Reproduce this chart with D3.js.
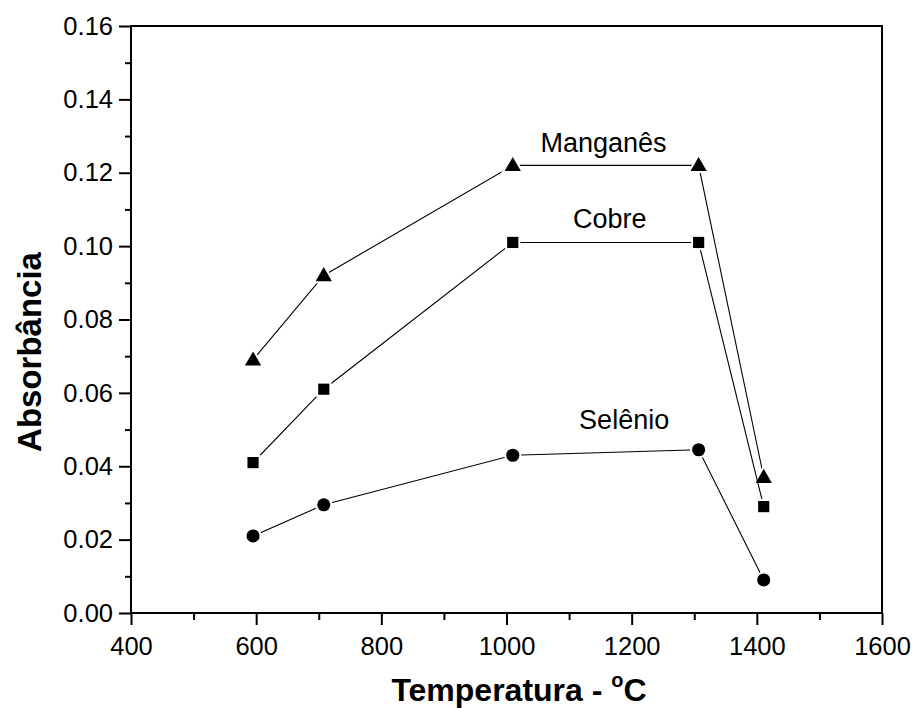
<!DOCTYPE html>
<html>
<head>
<meta charset="utf-8">
<script src="https://cdn.jsdelivr.net/npm/d3@7"></script>
<style>
  html, body { margin: 0; padding: 0; background: #fff; }
  svg { display: block; font-family: Arial, "Liberation Sans", sans-serif; }
</style>
</head>
<body>
<svg id="chart" width="919" height="708"></svg>
<script>
// Atomization temperature (°C)
const temperatures = [595, 708, 1010, 1307, 1411];
// Absorbance per element
const manganes = [0.069, 0.092, 0.122, 0.122, 0.037];
const cobre    = [0.041, 0.061, 0.101, 0.101, 0.029];
const selenio  = [0.021, 0.0295, 0.043, 0.0445, 0.009];

const seriesNames = ["Manganês", "Cobre", "Selênio"];
const seriesSymbols = ["triangle", "square", "circle"];
// Label anchor for each series, in data units (temperature, absorbance)
const labelTemps = [1155, 1165, 1188];
const labelValues = [0.1257, 0.1049, 0.0502];

const xTicks = [400, 600, 800, 1000, 1200, 1400, 1600];
const yTicks = [0.00, 0.02, 0.04, 0.06, 0.08, 0.10, 0.12, 0.14, 0.16];

const svg = d3.select("#chart");
const margin = { left: 131, right: 919 - 882, top: 26, bottom: 708 - 613 };
const W = 919, H = 708;

const x = d3.scaleLinear().domain([400, 1600]).range([margin.left, W - margin.right]);
const y = d3.scaleLinear().domain([0, 0.16]).range([H - margin.bottom, margin.top]);

// Minor ticks
const xMinor = d3.range(500, 1600, 200);
const yMinor = d3.range(0.01, 0.16, 0.02);

const gx = svg.append("g").attr("transform", `translate(0,${y(0)})`);
gx.call(d3.axisBottom(x).tickValues(xTicks).tickFormat(d3.format("d")).tickSize(12).tickPadding(12));
gx.append("g").call(d3.axisBottom(x).tickValues(xMinor).tickFormat("").tickSize(7));

const gy = svg.append("g").attr("transform", `translate(${x(400)},0)`);
gy.call(d3.axisLeft(y).tickValues(yTicks).tickFormat(d3.format(".2f")).tickSize(12).tickPadding(6));
gy.append("g").call(d3.axisLeft(y).tickValues(yMinor).tickFormat("").tickSize(6));

svg.selectAll(".domain").remove();
svg.selectAll(".tick line").attr("stroke", "#000").attr("stroke-width", 2);
svg.selectAll(".tick text").attr("fill", "#000").style("font-size", "25.5px")
   .style("font-family", "Arial, 'Liberation Sans', sans-serif");

// Frame
svg.append("rect")
  .attr("x", x(400)).attr("y", y(0.16))
  .attr("width", x(1600) - x(400)).attr("height", y(0) - y(0.16))
  .attr("fill", "none").attr("stroke", "#000").attr("stroke-width", 2);

// Axis titles
svg.append("text")
  .attr("x", 519).attr("y", 701)
  .attr("text-anchor", "middle")
  .style("font-size", "32px").style("font-weight", "bold")
  .html('Temperatura - <tspan dy="-14" font-size="20">o</tspan><tspan dy="14">C</tspan>');

svg.append("text")
  .attr("transform", `translate(41,${352}) rotate(-90)`)
  .attr("text-anchor", "middle")
  .style("font-size", "33px").style("font-weight", "bold")
  .text("Absorbância");

// Series
const allSeries = [manganes, cobre, selenio];
const line = d3.line().x((d, i) => x(temperatures[i])).y(d => y(d));

const symbolTypes = { triangle: d3.symbolTriangle, square: d3.symbolSquare, circle: d3.symbolCircle };
const symbolSizes = { triangle: 115, square: 125, circle: 135 };

allSeries.forEach((vals, s) => {
  svg.append("path")
    .datum(vals)
    .attr("d", line)
    .attr("fill", "none")
    .attr("stroke", "#000")
    .attr("stroke-width", 1.1);

  const sym = d3.symbol().type(symbolTypes[seriesSymbols[s]]).size(symbolSizes[seriesSymbols[s]]);
  svg.append("g").selectAll("path")
    .data(vals)
    .join("path")
    .attr("transform", (d, i) => `translate(${x(temperatures[i])},${y(d) + (seriesSymbols[s] === "triangle" ? 1 : 0)})`)
    .attr("d", sym)
    .attr("fill", "#000")
    .attr("stroke", "#fff")
    .attr("stroke-width", 4)
    .style("paint-order", "stroke");

  svg.append("text")
    .attr("x", x(labelTemps[s]))
    .attr("y", y(labelValues[s]))
    .attr("text-anchor", "middle")
    .style("font-size", "27px")
    .text(seriesNames[s]);
});
</script>
</body>
</html>
